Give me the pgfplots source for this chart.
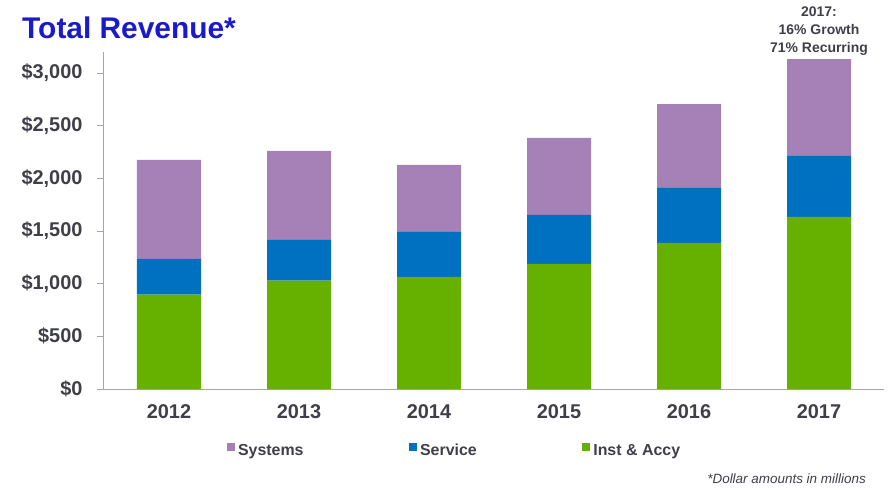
\documentclass[border=0pt]{standalone}
\usepackage{pgfplots}
\pgfplotsset{compat=1.18}
\usepackage{fontspec}
\setmainfont{Liberation Sans}
\definecolor{sys}{HTML}{A681B8}
\definecolor{srv}{HTML}{0070C0}
\definecolor{ins}{HTML}{66B000}
\definecolor{ttl}{HTML}{1A1ACC}
\definecolor{txt}{HTML}{3F3F48}
\definecolor{axl}{HTML}{A6A6A6}
\begin{document}
\begin{tikzpicture}
\useasboundingbox (-104bp,-102bp) rectangle (791bp,389bp);
\begin{axis}[
  at={(0,0)}, anchor=south west,
  scale only axis, width=780bp, height=337bp,
  xmin=-0.5, xmax=5.5, ymin=0, ymax=3200,
  clip=false,
  ybar stacked, bar width=64bp,
  axis x line*=bottom, axis y line*=left,
  axis line style={axl, line width=1bp},
  xtick={0,1,2,3,4,5},
  xticklabels={2012,2013,2014,2015,2016,2017},
  x tick style={draw=none},
  x tick label style={font=\fontsize{20}{24}\selectfont\bfseries, text=txt, yshift=-5bp},
  ytick={0,500,1000,1500,2000,2500,3000},
  yticklabels={{\$0},{\$500},{\$1,000},{\$1,500},{\$2,000},{\$2,500},{\$3,000}},
  y tick style={axl, line width=1bp},
  tick align=outside, major tick length=7bp,
  y tick label style={font=\fontsize{20}{24}\selectfont\bfseries, text=txt, xshift=-11bp},
  legend style={at={(0.153,-0.184)}, anchor=west, draw=none, fill=none,
    font=\fontsize{16}{18}\selectfont\bfseries, text=txt,
    nodes={text height=12bp, text depth=3bp, inner sep=2bp},
    /tikz/every even column/.append style={column sep=103bp}},
  legend columns=3,
  legend image code/.code={\fill[#1, draw=none] (0bp,0bp) rectangle (8bp,8bp); \path[draw=none, fill=none] (9.5bp,4bp) circle (0bp);},
]
\addlegendimage{fill=sys}
\addlegendentry{Systems}
\addlegendimage{fill=srv}
\addlegendentry{Service}
\addlegendimage{fill=ins}
\addlegendentry{Inst \& Accy}
\addplot[fill=ins, draw=none, forget plot] coordinates {(0,897) (1,1030) (2,1065) (3,1189) (4,1388) (5,1634)};
\addplot[fill=srv, draw=none, forget plot] coordinates {(0,339) (1,386) (2,427) (3,464) (4,522) (5,579)};
\addplot[fill=sys, draw=none, forget plot] coordinates {(0,939) (1,844) (2,636) (3,731) (4,796) (5,920)};
\node[align=center, font=\fontsize{14}{18}\selectfont\bfseries, text=txt, anchor=south] at (axis cs:5,3133) {2017:\\16\% Growth\\71\% Recurring};
\end{axis}
\node[anchor=north west, inner sep=0pt, font=\fontsize{30}{34}\selectfont\bfseries, text=ttl] at (-82bp,372bp) {Total Revenue*};
\node[anchor=base east, inner sep=0pt, font=\fontsize{13.5}{16}\selectfont\itshape, text=txt] at (762bp,-94bp) {*Dollar amounts in millions};
\end{tikzpicture}
\end{document}
